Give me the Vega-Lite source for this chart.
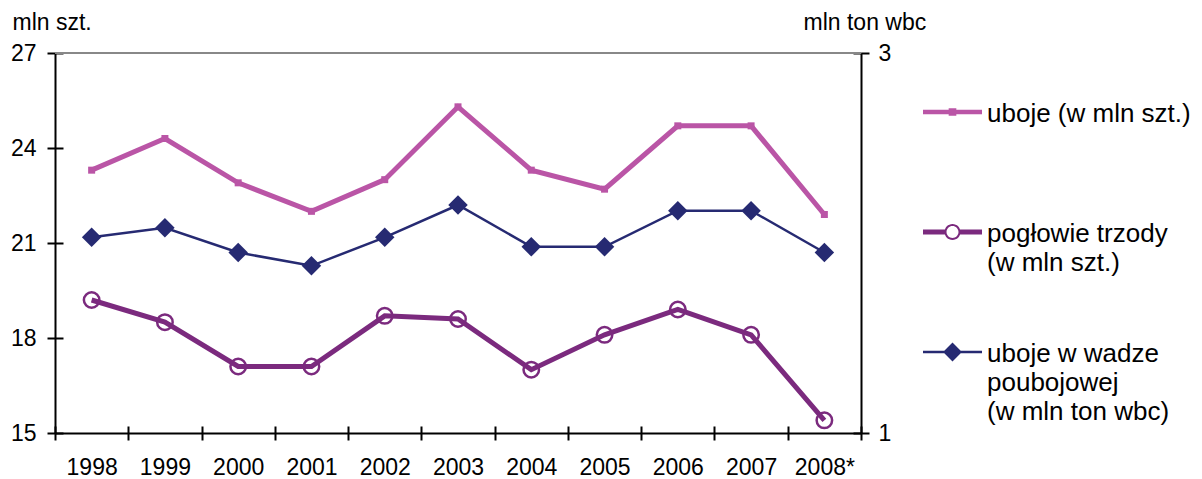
{
  "$schema": "https://vega.github.io/schema/vega-lite/v6.json",
  "width": 806,
  "height": 380,
  "autosize": "none",
  "padding": {"left": 55, "top": 53, "right": 341, "bottom": 46},
  "background": "white",
  "config": {
    "view": {"stroke": null},
    "font": "Liberation Sans",
    "axis": {
      "labelColor": "black",
      "labelFontSize": 23,
      "labelFont": "Liberation Sans",
      "titleFont": "Liberation Sans",
      "titleFontSize": 23,
      "titleFontWeight": "normal",
      "titleColor": "black",
      "domainColor": "black",
      "domainWidth": 2,
      "tickColor": "black",
      "tickWidth": 2,
      "gridColor": "black",
      "gridWidth": 2,
      "gridOpacity": 1
    }
  },
  "data": {
    "values": [
      {"year": "1998", "series": "A", "value": 23.3},
      {"year": "1999", "series": "A", "value": 24.3},
      {"year": "2000", "series": "A", "value": 22.9},
      {"year": "2001", "series": "A", "value": 22.0},
      {"year": "2002", "series": "A", "value": 23.0},
      {"year": "2003", "series": "A", "value": 25.3},
      {"year": "2004", "series": "A", "value": 23.3},
      {"year": "2005", "series": "A", "value": 22.7},
      {"year": "2006", "series": "A", "value": 24.7},
      {"year": "2007", "series": "A", "value": 24.7},
      {"year": "2008*", "series": "A", "value": 21.9},
      {"year": "1998", "series": "B", "value": 19.2},
      {"year": "1999", "series": "B", "value": 18.5},
      {"year": "2000", "series": "B", "value": 17.1},
      {"year": "2001", "series": "B", "value": 17.1},
      {"year": "2002", "series": "B", "value": 18.7},
      {"year": "2003", "series": "B", "value": 18.6},
      {"year": "2004", "series": "B", "value": 17.0},
      {"year": "2005", "series": "B", "value": 18.1},
      {"year": "2006", "series": "B", "value": 18.9},
      {"year": "2007", "series": "B", "value": 18.1},
      {"year": "2008*", "series": "B", "value": 15.4},
      {"year": "1998", "series": "C", "value": 2.03},
      {"year": "1999", "series": "C", "value": 2.08},
      {"year": "2000", "series": "C", "value": 1.95},
      {"year": "2001", "series": "C", "value": 1.88},
      {"year": "2002", "series": "C", "value": 2.03},
      {"year": "2003", "series": "C", "value": 2.2},
      {"year": "2004", "series": "C", "value": 1.98},
      {"year": "2005", "series": "C", "value": 1.98},
      {"year": "2006", "series": "C", "value": 2.17},
      {"year": "2007", "series": "C", "value": 2.17},
      {"year": "2008*", "series": "C", "value": 1.95}
    ]
  },
  "layer": [
    {
      "layer": [
        {
          "data": {"values": [{"top": 27}]},
          "mark": {"type": "rule", "color": "#888888", "strokeWidth": 2},
          "encoding": {
            "y": {"field": "top", "type": "quantitative"}
          }
        },
        {
          "transform": [{"filter": "datum.series == 'A'"}],
          "mark": {"type": "line", "strokeWidth": 5},
          "encoding": {
            "x": {
              "field": "year", "type": "ordinal", "sort": null, "bandPosition": 0.5,
              "scale": {"type": "band", "paddingInner": 0, "paddingOuter": 0},
              "axis": {"title": null, "labelAngle": 0, "labelPadding": 16, "tickBand": "extent", "tickSize": 7, "grid": true, "gridDash": [0, 373, 7, 1000]}
            },
            "y": {"field": "value", "type": "quantitative"},
            "color": {
              "field": "series", "type": "nominal",
              "scale": {"domain": ["A", "B", "C"], "range": ["#BA55A6", "#7B2A7E", "#262A72"]},
              "legend": {
                "orient": "none",
                "legendX": 868,
                "legendY": 29.5,
                "title": null,
                "padding": 0,
                "symbolSize": 3481,
                "symbolOffset": 0,
                "labelOffset": 5,
                "labelLimit": 400,
                "labelFont": "Liberation Sans",
                "labelFontSize": 26,
                "labelColor": "black",
                "labelBaseline": "alphabetic",
                "rowPadding": 17,
                "labelExpr": "datum.value == 'A' ? ['uboje (w mln szt.)', '', ''] : datum.value == 'B' ? ['pogłowie trzody', '(w mln szt.)', ''] : ['uboje w wadze', 'poubojowej', '(w mln ton wbc)']",
                "encode": {
                  "symbols": {
                    "update": {
                      "shape": {"signal": "datum.value == 'A' ? 'M-1,-0.08H1V0.08H-1Z M-0.13,-0.13H0.13V0.13H-0.13Z' : datum.value == 'B' ? 'M-1,-0.085H-0.23V0.085H-1Z M0.23,-0.085H1V0.085H0.23Z M0.271,0A0.271,0.271 0 1,1 -0.271,0A0.271,0.271 0 1,1 0.271,0Z M0.203,0A0.203,0.203 0 1,0 -0.203,0A0.203,0.203 0 1,0 0.203,0Z' : 'M-1,-0.04H1V0.04H-1Z M0,-0.32L0.32,0L0,0.32L-0.32,0Z'"},
                      "fill": {"signal": "datum.value == 'A' ? '#BA55A6' : datum.value == 'B' ? '#7B2A7E' : '#262A72'"},
                      "stroke": {"value": "transparent"},
                      "strokeWidth": {"value": 0},
                      "opacity": {"value": 1},
                      "fillOpacity": {"value": 1}
                    }
                  },
                  "labels": {
                    "update": {
                      "lineHeight": {"value": 29},
                      "dy": {"value": 10}
                    }
                  }
                }
              }
            }
          }
        },
        {
          "transform": [{"filter": "datum.series == 'A'"}],
          "mark": {"type": "point", "shape": "square", "filled": true, "size": 49, "opacity": 1},
          "encoding": {
            "x": {"field": "year", "type": "ordinal", "sort": null, "bandPosition": 0.5},
            "y": {"field": "value", "type": "quantitative"},
            "color": {"field": "series", "type": "nominal"}
          }
        },
        {
          "transform": [{"filter": "datum.series == 'B'"}],
          "mark": {"type": "line", "strokeWidth": 5},
          "encoding": {
            "x": {"field": "year", "type": "ordinal", "sort": null, "bandPosition": 0.5},
            "y": {"field": "value", "type": "quantitative"},
            "color": {"field": "series", "type": "nominal"}
          }
        },
        {
          "transform": [{"filter": "datum.series == 'B'"}],
          "mark": {"type": "point", "shape": "circle", "filled": false, "size": 240, "strokeWidth": 2.5, "opacity": 1},
          "encoding": {
            "x": {"field": "year", "type": "ordinal", "sort": null, "bandPosition": 0.5},
            "y": {"field": "value", "type": "quantitative"},
            "color": {"field": "series", "type": "nominal"}
          }
        }
      ],
      "encoding": {
        "y": {
          "type": "quantitative",
          "scale": {"domain": [15, 27], "nice": false, "zero": false},
          "axis": {
            "orient": "left", "values": [15, 18, 21, 24, 27],
            "title": "mln szt.", "titleAngle": 0, "titleX": -43, "titleY": -24,
            "titleAlign": "left", "titleBaseline": "alphabetic",
            "labelPadding": 11, "tickSize": 8, "grid": true, "gridDash": [8, 1000]
          }
        }
      }
    },
    {
      "transform": [{"filter": "datum.series == 'C'"}],
      "layer": [
        {
          "mark": {"type": "line", "strokeWidth": 2.5},
          "encoding": {
            "x": {"field": "year", "type": "ordinal", "sort": null, "bandPosition": 0.5},
            "color": {"field": "series", "type": "nominal"}
          }
        },
        {
          "mark": {"type": "point", "shape": "diamond", "filled": true, "size": 380, "opacity": 1},
          "encoding": {
            "x": {"field": "year", "type": "ordinal", "sort": null, "bandPosition": 0.5},
            "color": {"field": "series", "type": "nominal"}
          }
        }
      ],
      "encoding": {
        "y": {
          "field": "value", "type": "quantitative",
          "scale": {"domain": [1, 3], "nice": false, "zero": false},
          "axis": {
            "orient": "right", "values": [1, 2, 3], "format": "d",
            "title": "mln ton wbc", "titleAngle": 0, "titleX": -58, "titleY": -24,
            "titleAlign": "left", "titleBaseline": "alphabetic",
            "labelPadding": 9, "tickSize": 8, "grid": true, "gridDash": [8, 1000]
          }
        }
      }
    }
  ],
  "resolve": {"scale": {"y": "independent"}}
}
